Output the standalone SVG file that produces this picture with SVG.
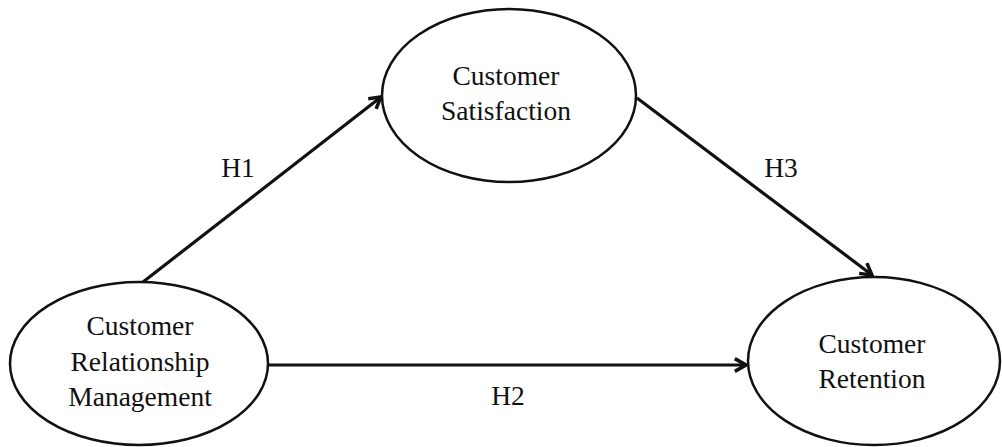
<svg xmlns="http://www.w3.org/2000/svg" width="1002" height="447" viewBox="0 0 1002 447">
<style>
.node ellipse{fill:#fff;stroke:#111;stroke-width:2.5}
.t{font-family:'Liberation Serif','Times New Roman','DejaVu Serif',serif;font-size:27.5px;fill:#111;text-anchor:middle}
.edge{stroke:#111;stroke-width:3.2;fill:none;marker-end:url(#arr)}
</style>
<defs>
<marker id="arr" viewBox="0 0 10 10" refX="9" refY="5" markerWidth="5" markerHeight="5" orient="auto" markerUnits="strokeWidth">
<path d="M2,1 L9,5 L2,9" fill="none" stroke="#111" stroke-width="2.2" stroke-linejoin="miter"/>
</marker>
</defs>
<rect width="1002" height="447" fill="#fff"/>
<g id="connectors">
<line class="edge" x1="143" y1="282" x2="381" y2="97"/>
<line class="edge" x1="637" y1="98" x2="872" y2="275"/>
<line class="edge" x1="268" y1="365" x2="746" y2="365"/>
</g>
<g id="labels">
<text class="t" x="238" y="177">H1</text>
<text class="t" x="781" y="177">H3</text>
<text class="t" x="508" y="405">H2</text>
</g>
<g id="satisfaction" class="node">
<ellipse cx="509" cy="95.5" rx="127" ry="86.5"/>
<text class="t" x="506" y="85">Customer</text>
<text class="t" x="506" y="120">Satisfaction</text>
</g>
<g id="crm" class="node">
<ellipse cx="139" cy="363.5" rx="129" ry="81.5"/>
<text class="t" x="140" y="335">Customer</text>
<text class="t" x="140" y="371">Relationship</text>
<text class="t" x="140" y="406">Management</text>
</g>
<g id="retention" class="node">
<ellipse cx="874" cy="361" rx="126" ry="84"/>
<text class="t" x="872" y="353">Customer</text>
<text class="t" x="872" y="388">Retention</text>
</g>
</svg>
